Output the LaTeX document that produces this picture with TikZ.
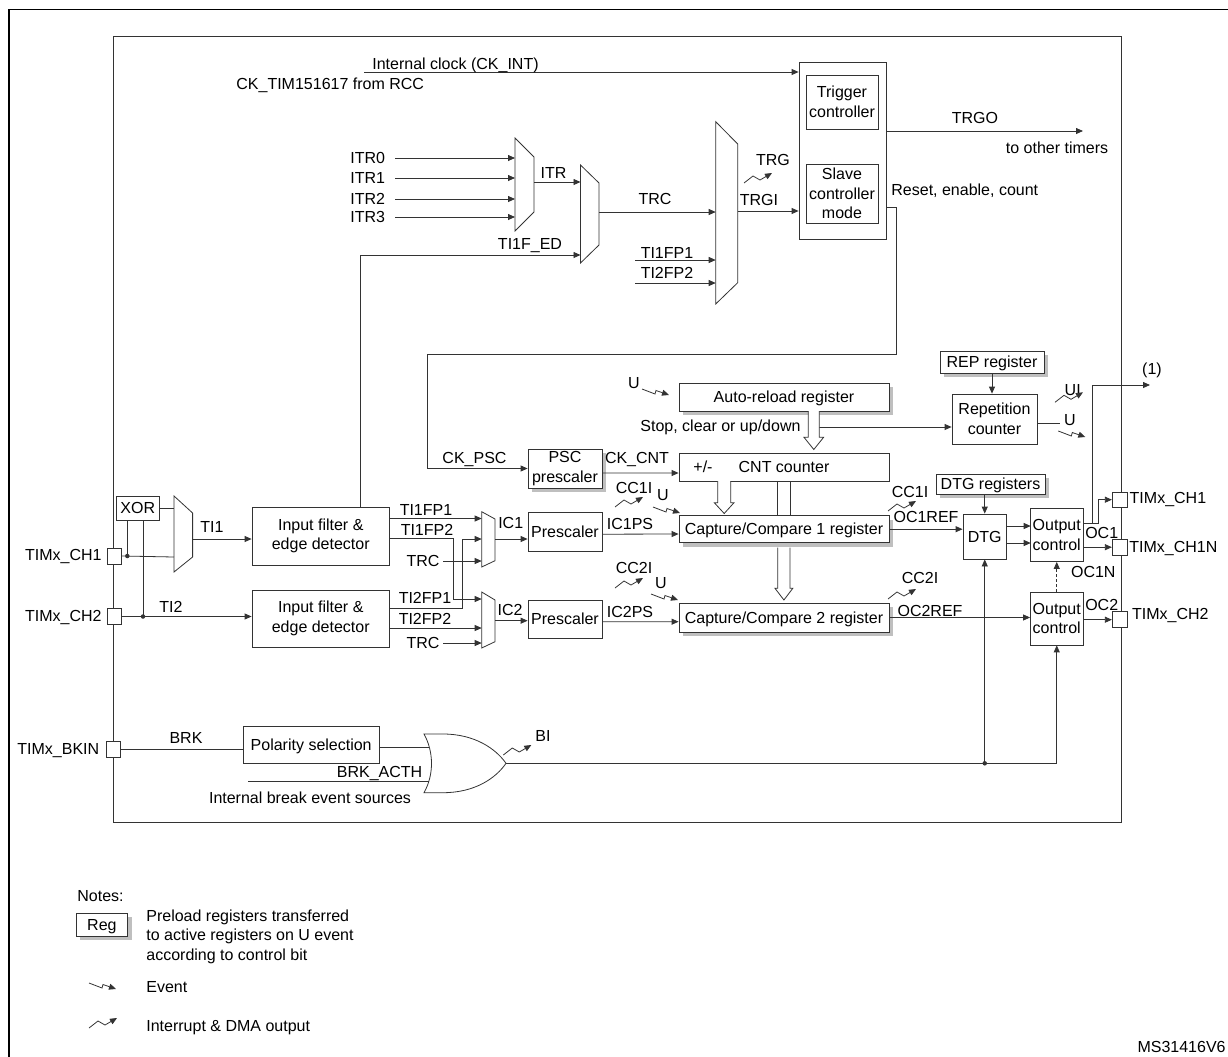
\documentclass[tikz,border=0pt]{standalone}
\usepackage{fontspec}
\setmainfont{Liberation Sans}
\usetikzlibrary{arrows.meta,shadows}

\begin{document}
\begin{tikzpicture}[x=1bp,y=-1bp,line width=0.8bp,color=black!80,
        >={Triangle[length=7bp,width=6bp]},
        every node/.style={text=black,font=\fontsize{16bp}{19.5bp}\selectfont},
        blk/.style={draw=black!80, fill=white, inner sep=1bp, align=center},
        reg/.style={blk, drop shadow={shadow xshift=4bp, shadow yshift=-4bp,
                        fill=black!25, opacity=1}},
        pad/.style={draw=black!80, fill=white, inner sep=0pt,
                        minimum width=14bp, minimum height=15.5bp},
        lbl/.style={inner sep=0pt, text height=11.5bp, text depth=0pt},
        sl/.style={text height=11.5bp, text depth=0pt},
        bus/.style={draw=black!80, fill=white},
        dot/.style={circle, fill=black!80, inner sep=0pt, minimum size=4.5bp},
        pics/intr/.style={code={\draw[-{Triangle[length=7bp,width=6bp]}]
                        (0,0) -- (9,-7) -- (16,-3) -- (28,-10);}},
        pics/evt/.style={code={\draw[-{Triangle[length=7bp,width=6bp]}]
                        (0,0) -- (13,5) -- (14,1.5) -- (27,6);}}]
    \useasboundingbox (0,0) rectangle (1228,1057);
    \draw[line width=1.6bp, black] (8.7,1057) -- (8.7,9.5) -- (1228,9.5);
    \draw (113.5,36.7) rectangle (1121,822);

    % clock, trigger and slave mode
    \node[blk, minimum width=87bp, minimum height=177bp] (ts) at (842.5,150.5) {};
    \node[blk, minimum width=72bp, minimum height=54bp] (trig) at (842,102) {Trigger\\controller};
    \node[blk, minimum width=72bp, minimum height=59bp] (slave) at (842,193.5) {Slave\\controller\\mode};
    \coordinate (clk) at (364,72);
    \draw[->] (clk) -- (clk -| ts.west);
    \node[lbl, anchor=west] (clkl) at (372,64) {Internal clock (CK\_INT)};
    \node[lbl, anchor=west] (rcc) at (236,84) {CK\_TIM151617 from RCC};
    \coordinate (trgo) at (1083,131);
    \draw[->] (trgo -| ts.east) -- (trgo);
    \node[lbl] (trgol) at (975,118) {TRGO};
    \node[lbl] (toth) at (1057,148) {to other timers};
    \node[lbl, anchor=west] (rst) at (891,190) {Reset, enable, count};

    \draw (515,138) -- (534,157) -- (534,212) -- (515,231) -- cycle;
    \draw (580.5,165) -- (599,183) -- (599,245) -- (580.5,263) -- cycle;
    \draw (715.7,121.7) -- (737.7,144) -- (737.7,282.7) -- (715.7,304) -- cycle;
    \coordinate (m1in) at (515,180);
    \coordinate (m1out) at (534,182);
    \coordinate (m2in) at (580.5,182);
    \coordinate (m2out) at (599,212);
    \coordinate (m3in) at (715.7,212);
    \coordinate (m3out) at (737.7,211);
    \foreach \i/\y in {0/158,1/178,2/199,3/217} {
        \node[lbl, anchor=east] (itr\i) at (385.5,\y) {ITR\i};
        \draw[->] ([xshift=9.5bp]itr\i.east) -- (itr\i.east -| m1in);
    }
    \draw[->] (m1out) -- (m1out -| m2in);
    \node[lbl] (itrl) at (553.5,173) {ITR};
    \draw[->] (m2out) -- (m2out -| m3in);
    \node[lbl] (trcl) at (655,199) {TRC};
    \coordinate (fp1) at (635,260);
    \coordinate (fp2) at (635,283);
    \draw[->] (fp1) -- (fp1 -| m3in);
    \draw[->] (fp2) -- (fp2 -| m3in);
    \node[lbl] (fp1l) at (667,252.7) {TI1FP1};
    \node[lbl] (fp2l) at (667,273) {TI2FP2};
    \draw[->] (m3out) -- (m3out -| ts.west);
    \node[lbl] (trgil) at (759,200) {TRGI};
    \node[lbl] (trgl) at (773,160) {TRG};
    \pic at (744,183) {intr};

    % time base
    \node[reg, minimum width=74bp, minimum height=39bp] (psc) at (565,468.5) {PSC\\prescaler};
    \coordinate (rs) at (896,207);
    \draw[->] (rs -| ts.east) -- (rs) |- (427,354) |- (psc.west);
    \node[lbl] (ckpsc) at (474.5,458) {CK\_PSC};
    \node[reg, sl, minimum width=210bp, minimum height=28bp] (arr) at (784,397) {Auto-reload register};
    \node[blk, sl, minimum width=210bp, minimum height=28bp] (cnt) at (784,467) {CNT counter};
    \node[lbl] (pm) at (703,467) {+/-};
    \draw[->] ([yshift=-4.5bp]psc.east) -- ([yshift=-6bp]cnt.west);
    \node[lbl] (ckcnt) at (637,458) {CK\_CNT};
    \node[lbl] (u0) at (634,383) {U};
    \pic at (642,389) {evt};
    \node[lbl, anchor=west] (stop) at (640,426) {Stop, clear or up/down};
    \node[reg, sl, minimum width=104bp, minimum height=22bp] (repreg) at (992,362) {REP register};
    \node[blk, minimum width=85bp, minimum height=50bp] (rep) at (994.5,419) {Repetition\\counter};
    \draw[->] (repreg.south) -- (repreg.south |- rep.north);
    \coordinate (stp) at (819.3,427);
    \draw[->] (stp) -- (stp -| rep.west);
    \coordinate (uo) at (1060,423.3);
    \draw (uo -| rep.east) -- (uo);
    \node[lbl] (u3) at (1070,420) {U};
    \pic at (1058.3,431) {evt};
    \node[lbl] (uil) at (1072.7,390) {UI};
    \pic at (1055,402.3) {intr};
    \draw[bus] (808.3,411) -- (808.3,437.3) -- (804,437.3) -- (813.8,449.5)
        -- (823.6,437.3) -- (819.3,437.3) -- (819.3,411);

    % capture / compare
    \node[reg, sl, minimum width=210bp, minimum height=27bp] (cc1) at (784,529.2) {Capture/Compare 1 register};
    \node[reg, sl, minimum width=210bp, minimum height=29bp] (cc2) at (784,617.5) {Capture/Compare 2 register};
    \draw[bus] (717.7,481) -- (717.7,502.7) -- (714.3,502.7) -- (724.2,513.5)
        -- (734,502.7) -- (730.7,502.7) -- (730.7,481);
    \draw (777.7,481) -- (777.7,515.7) (790,481) -- (790,515.7);
    \draw[bus] (777.7,547.5) -- (777.7,588.3) -- (775,588.3) -- (783.9,600)
        -- (792.8,588.3) -- (790,588.3) -- (790,547.5);
    \node[lbl] (cc1il) at (634,488) {CC1I};
    \pic at (615,507) {intr};
    \node[lbl] (u1) at (663,495) {U};
    \pic at (653,507) {evt};
    \node[lbl] (cc2il) at (634,568) {CC2I};
    \pic at (615,588) {intr};
    \node[lbl] (u2) at (661,583) {U};
    \pic at (651,594) {evt};
    \node[lbl] (ic1ps) at (630,524) {IC1PS};
    \node[lbl] (ic2ps) at (630,612) {IC2PS};
    \node[lbl] (cc1ir) at (910,492) {CC1I};
    \pic at (888,511) {intr};
    \node[lbl] (oc1ref) at (926,517) {OC1REF};
    \node[lbl] (cc2ir) at (920,578) {CC2I};
    \pic at (888,599) {intr};
    \node[lbl] (oc2ref) at (930,611) {OC2REF};

    % dead time and outputs
    \node[reg, sl, minimum width=109bp, minimum height=20bp] (dtgreg) at (990.5,484) {DTG registers};
    \node[blk, sl, minimum width=43.5bp, minimum height=45bp] (dtg) at (984.75,536.5) {DTG};
    \node[blk, minimum width=52.5bp, minimum height=53bp] (oc1) at (1056.75,535) {Output\\control};
    \node[blk, minimum width=52.5bp, minimum height=52.5bp] (oc2) at (1056.75,618.7) {Output\\control};
    \draw[->] (dtgreg.south -| dtg.north) -- (dtg.north);
    \draw[->] (cc1.east) -- (cc1.east -| dtg.west);
    \coordinate (oca) at (1030.7,526);
    \coordinate (ocb) at (1030.7,543);
    \draw[->] (oca -| dtg.east) -- (oca);
    \draw[->] (ocb -| dtg.east) -- (ocb);
    \draw[->] (cc2.east) -- (cc2.east -| oc2.west);
    \draw[->, dash pattern=on 3bp off 2bp] (oc2.north) -- (oc1.south);
    \node[pad, minimum width=15.4bp] (och1) at (1120,499.7) {};
    \node[pad, minimum width=15.4bp] (och1n) at (1120,547.2) {};
    \node[pad, minimum width=15.4bp, minimum height=16bp] (och2) at (1120,619.7) {};
    \coordinate (j1) at (1092.3,523.3);
    \coordinate (j2) at (1098.3,523.3);
    \coordinate (one) at (1150,385);
    \draw[->] (j1 -| oc1.east) -- (j2) |- (och1.west);
    \draw[->] (j1) |- (one);
    \draw[->] (oc1.east |- och1n) -- (och1n.west);
    \draw[->] (oc2.east |- och2) -- (och2.west);
    \node[lbl] (onel) at (1152,369) {(1)};
    \node[lbl] (oc1l) at (1101.7,532.3) {OC1};
    \node[lbl] (oc1nl) at (1093.3,571.7) {OC1N};
    \node[lbl] (oc2l) at (1101.7,604.3) {OC2};
    \node[lbl, anchor=west] (och1l) at (1129.3,497.7) {TIMx\_CH1};
    \node[lbl, anchor=west] (och1nl) at (1129,546.7) {TIMx\_CH1N};
    \node[lbl, anchor=west] (och2l) at (1131.7,613.3) {TIMx\_CH2};

    % input stage
    \node[pad, minimum height=16bp] (ich1) at (114.5,556) {};
    \node[pad, minimum height=16bp] (ich2) at (114.5,616.5) {};
    \node[lbl, anchor=east] (ich1l) at (102,555) {TIMx\_CH1};
    \node[lbl, anchor=east] (ich2l) at (102,616) {TIMx\_CH2};
    \node[blk, sl, minimum width=42.4bp, minimum height=24bp] (xor) at (137.8,508) {XOR};
    \draw (174,496) -- (192.6,513) -- (192.6,557) -- (174,572) -- cycle;
    \coordinate (m0in) at (174,557);
    \coordinate (m0out) at (192.6,539);
    \node[blk, minimum width=137.5bp, minimum height=58bp] (flt1) at (320.75,536) {Input filter \&\\edge detector};
    \node[blk, minimum width=137.5bp, minimum height=57bp] (flt2) at (320.75,618.5) {Input filter \&\\edge detector};
    \draw (xor.east) -- (xor.east -| m0in);
    \draw (ich1.east) -- (m0in);
    \coordinate (d1) at (127.3,556);
    \coordinate (d2) at (143,616.5);
    \draw (d1) -- (d1 |- xor.south);
    \draw (d2) -- (d2 |- xor.south);
    \node[dot] (dt1) at (d1) {};
    \node[dot] (dt2) at (d2) {};
    \draw[->] (ich2.east) -- (ich2.east -| flt2.west);
    \draw[->] (m0out) -- (m0out -| flt1.west);
    \node[lbl] (ti1l) at (212,527) {TI1};
    \node[lbl] (ti2l) at (171,607) {TI2};
    \coordinate (ted) at (360,255);
    \draw[->] (flt1.north -| ted) -- (ted) -- (ted -| m2in);
    \node[lbl] (tedl) at (530,244) {TI1F\_ED};

    \draw (481.7,511.7) -- (495,519) -- (495,560.7) -- (481.7,567) -- cycle;
    \draw (481.7,592) -- (495,600) -- (495,641.7) -- (481.7,648) -- cycle;
    \coordinate (c1a) at (481.7,518.5);
    \coordinate (c1b) at (481.7,539);
    \coordinate (c2a) at (481.7,599);
    \coordinate (c2b) at (481.7,628);
    \coordinate (c1out) at (495,539);
    \coordinate (c2out) at (495,620.7);
    \coordinate (x1) at (453,538);
    \coordinate (x2) at (462,608);
    \draw[->] (c1a -| flt1.east) -- (c1a);
    \draw[->] (x1 -| flt1.east) -- (x1) |- (c2a);
    \draw[->] (x2 -| flt2.east) -- (x2) |- (c1b);
    \draw[->] (c2b -| flt2.east) -- (c2b);
    \node[lbl] (trc1) at (423,561) {TRC};
    \node[lbl] (trc2) at (423,643) {TRC};
    \draw[->] ([xshift=3.5bp]trc1.east) -- (trc1.east -| c1a);
    \draw[->] ([xshift=3.5bp]trc2.east) -- (trc2.east -| c2a);
    \node[lbl] (fp11) at (426,510) {TI1FP1};
    \node[lbl] (fp12) at (427,530) {TI1FP2};
    \node[lbl] (fp21) at (425,598) {TI2FP1};
    \node[lbl] (fp22) at (425,619) {TI2FP2};
    \node[blk, sl, minimum width=74bp, minimum height=39bp] (pre1) at (565,532.2) {Prescaler};
    \node[blk, sl, minimum width=74bp, minimum height=38bp] (pre2) at (565,619) {Prescaler};
    \draw[->] (c1out) -- (c1out -| pre1.west);
    \draw[->] (c2out) -- (c2out -| pre2.west);
    \node[lbl] (ic1l) at (510.7,523) {IC1};
    \node[lbl] (ic2l) at (510,610) {IC2};
    \draw[->] ([yshift=-2bp]pre1.east) -- ([yshift=-4.8bp]cc1.west);
    \draw[->] ([yshift=-2.7bp]pre2.east) -- ([yshift=-4.2bp]cc2.west);

    % break
    \node[pad] (bkin) at (113,749.5) {};
    \node[lbl, anchor=east] (bkinl) at (99.6,749) {TIMx\_BKIN};
    \node[blk, sl, minimum width=136.6bp, minimum height=36.6bp] (pol) at (311.2,745) {Polarity selection};
    \draw (bkin.east) -- (bkin.east -| pol.west);
    \node[lbl] (brkl) at (186,738) {BRK};
    \draw (424,734) -- (443,734) .. controls (475,734) and (496,749) .. (506,763.3)
        .. controls (496,778) and (475,792.7) .. (443,792.7) -- (424,792.7)
        .. controls (434,775) and (434,752) .. cycle;
    \coordinate (or) at (506,763.3);
    \coordinate (ora) at (429,747.3);
    \coordinate (orb) at (429,781.7);
    \coordinate (acth) at (248.3,781.7);
    \draw (ora -| pol.east) -- (ora);
    \draw (acth) -- (orb);
    \node[lbl, anchor=east] (acthl) at (422.7,771.7) {BRK\_ACTH};
    \node[lbl] (ibes) at (310,798) {Internal break event sources};
    \node[lbl] (bil) at (543,736) {BI};
    \pic at (503.3,755) {intr};
    \coordinate (bj) at (dtg.south |- or);
    \draw (or) -- (bj);
    \draw[->] (bj) -| (oc2.south);
    \draw[->] (bj) -- (dtg.south);
    \node[dot] (bjd) at (bj) {};

    % notes
    \node[lbl, anchor=west] (notes) at (77,896) {Notes:};
    \node[reg, sl, minimum width=51.7bp, minimum height=23bp] (legreg) at (101.9,924.5) {Reg};
    \node[anchor=north west, align=left, inner sep=0pt] (legtxt) at (146,909.3)
        {Preload registers transferred\\to active registers on U event\\according to control bit};
    \pic at (89,983) {evt};
    \node[lbl, anchor=west] (legevt) at (146,987) {Event};
    \pic at (89,1028) {intr};
    \node[lbl, anchor=west] (legint) at (146,1026) {Interrupt \& DMA output};
    \node[lbl, anchor=east] (ms) at (1226,1047) {MS31416V6};
\end{tikzpicture}
\end{document}
